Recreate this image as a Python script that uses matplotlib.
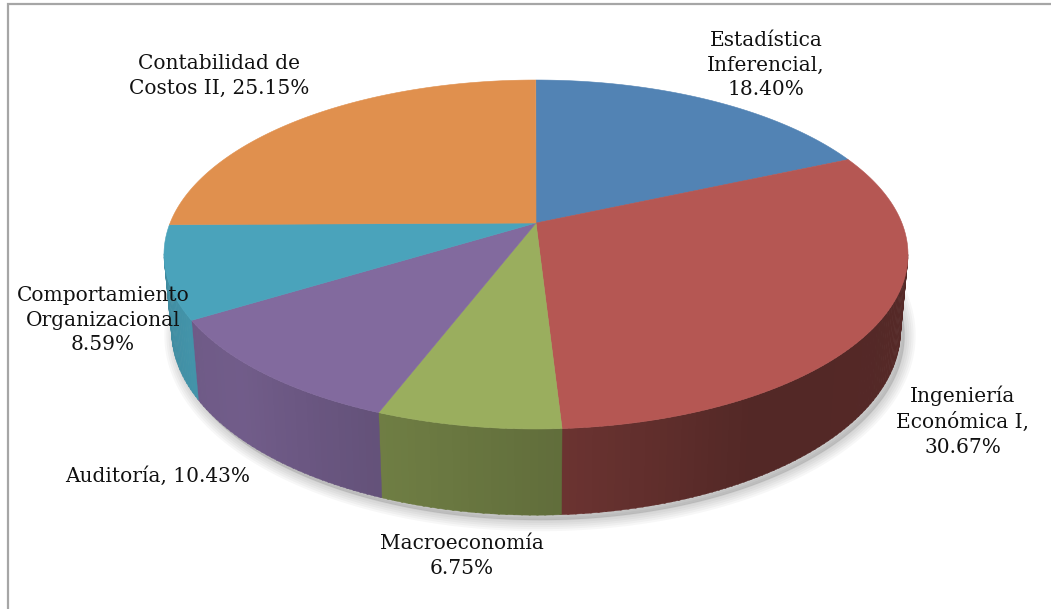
import numpy as np
import matplotlib
matplotlib.use("Agg")
import matplotlib.pyplot as plt
from matplotlib.patches import Polygon

# slices, clockwise from 12 o'clock
subjects = ["Estadística\nInferencial,\n18.40%",
            "Ingeniería\nEconómica I,\n30.67%",
            "Macroeconomía\n6.75%",
            "Auditoría, 10.43%",
            "Comportamiento\nOrganizacional\n8.59%",
            "Contabilidad de\nCostos II, 25.15%"]
shares = [18.40, 30.67, 6.75, 10.43, 8.59, 25.15]
top_colors = ["#5283B4", "#B55753", "#9AAE5E", "#826A9E", "#4AA3BB", "#E0904E"]
label_xy = [(766, 65), (963, 421), (462, 556), (158, 476), (103, 320), (219, 76)]

# perspective view of the pie (pixel space)
X0, Y0 = 536, 223
A, B, K = 365.9, 168.8, 0.1805
DEPTH, SHRINK = 74, 0.98


def top_pt(th):
    u, v = np.sin(th), -np.cos(th)
    w = 1 - K * v
    return np.column_stack([X0 + A * u / w, Y0 + B * v / w])


def bottom_pt(th):
    u, v = np.sin(th), -np.cos(th)
    w = 1 - K * v
    return np.column_stack([X0 + SHRINK * A * u / w,
                            Y0 + SHRINK * B * v / w + DEPTH / w])


def shade(hex_col, f):
    c = np.array(matplotlib.colors.to_rgb(hex_col))
    return tuple(np.clip(c * f, 0, 1))


fig = plt.figure(figsize=(10.51, 6.09), dpi=100)
ax = fig.add_axes([0, 0, 1, 1])
ax.set_xlim(0, 1051)
ax.set_ylim(609, 0)
ax.axis("off")

# soft shadow under the pie
full = np.linspace(0, 2 * np.pi, 361)
outline = bottom_pt(full) + np.array([4, 5])
for lw in range(16, 0, -3):
    ax.add_patch(Polygon(outline, closed=True, facecolor="none",
                         edgecolor="#000000", lw=lw, alpha=0.03,
                         joinstyle="round", zorder=1))
ax.add_patch(Polygon(outline, closed=True, color="#000000", alpha=0.12,
                     lw=0, zorder=1))

edges = np.concatenate([[0], np.cumsum(shares)]) / 100.0 * 2 * np.pi
th_r = np.arccos(-K)
th_l = 2 * np.pi - th_r

# side walls, lit from the left
for i, col in enumerate(top_colors):
    a0, a1 = max(edges[i], th_r), min(edges[i + 1], th_l)
    if a1 <= a0:
        continue
    n = max(2, int(np.degrees(a1 - a0)))
    ts = np.linspace(a0, a1, n + 1)
    for j in range(n):
        seg = np.linspace(ts[j], ts[j + 1] + 0.004, 4)
        mid = np.degrees(seg.mean())
        f = 0.46 + 0.42 * np.clip((mid - 150) / 75, 0, 1)
        f *= 1.03 - 0.06 * (ts[j + 1] - a0) / (a1 - a0 + 1e-9)
        poly = np.vstack([top_pt(seg), bottom_pt(seg[::-1])])
        ax.add_patch(Polygon(poly, closed=True, facecolor=shade(col, f),
                             edgecolor=shade(col, f), lw=0.3, zorder=2))

# top faces
for i, col in enumerate(top_colors):
    arc = np.linspace(edges[i], edges[i + 1], 120)
    poly = np.vstack([[X0, Y0], top_pt(arc)])
    ax.add_patch(Polygon(poly, closed=True, facecolor=col, edgecolor=col,
                         lw=0.4, zorder=3))

for txt, (x, y) in zip(subjects, label_xy):
    ax.text(x, y, txt, ha="center", va="center", family="DejaVu Serif",
            fontsize=14.5, linespacing=1.38, color="#111111", zorder=5)

# chart frame (left and top edges)
ax.plot([8, 8, 1051], [609, 4, 4], color="#A6A6A6", lw=1.6,
        solid_joinstyle="miter", zorder=6)

fig.savefig("out.png", dpi=100)
